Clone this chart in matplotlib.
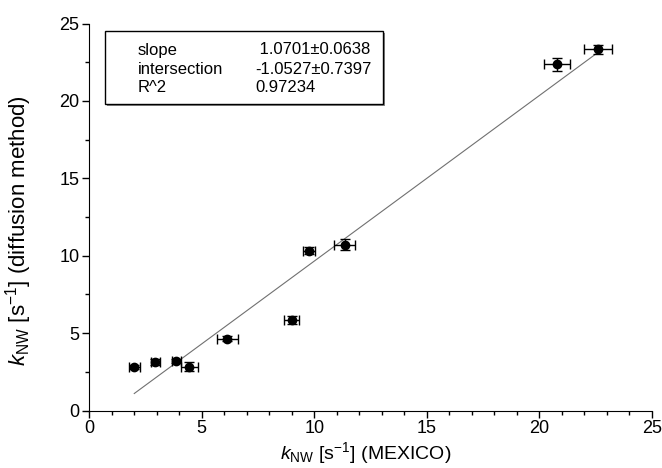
import matplotlib
matplotlib.use("Agg")
import matplotlib.pyplot as plt
from matplotlib.ticker import MultipleLocator
import numpy as np

plt.rcParams['font.family'] = ['Liberation Sans', 'DejaVu Sans']
plt.rcParams['mathtext.fontset'] = 'custom'
plt.rcParams['mathtext.rm'] = 'Liberation Sans'
plt.rcParams['mathtext.it'] = 'Liberation Sans:italic'

# data
x_mexico = [2.01, 2.95, 3.88, 4.46, 6.15, 9.00, 9.78, 11.35, 20.79, 22.60]
y_diffusion = [2.79, 3.15, 3.20, 2.82, 4.64, 5.85, 10.33, 10.71, 22.36, 23.33]
x_err = [0.24, 0.20, 0.20, 0.36, 0.47, 0.33, 0.27, 0.47, 0.59, 0.63]
y_err = [0.12, 0.18, 0.12, 0.30, 0.15, 0.25, 0.20, 0.34, 0.43, 0.29]
slope = 1.0701
intercept = -1.0527
fit_labels = ["slope", "intersection", "R^2"]
fit_values = [" 1.0701\u00b10.0638", "-1.0527\u00b10.7397", "0.97234"]

W, H = 662, 468
fig = plt.figure(figsize=(6.62, 4.68), dpi=100)
ax = fig.add_axes([89 / W, 1 - 410.5 / H, (652 - 89) / W, (410.5 - 23.5) / H])

xf = np.array([min(x_mexico), max(x_mexico)])
ax.plot(xf, slope * xf + intercept, color='#707070', lw=0.8, zorder=1)

ax.errorbar(x_mexico, y_diffusion, xerr=x_err, yerr=y_err, fmt='o', color='black',
            ms=6, ecolor='black', elinewidth=1.0, capsize=3.5, capthick=1.0, zorder=3)

ax.set_xlim(0, 25)
ax.set_ylim(0, 25)
ax.spines['top'].set_visible(False)
ax.spines['right'].set_visible(False)
ax.xaxis.set_major_locator(MultipleLocator(5))
ax.xaxis.set_minor_locator(MultipleLocator(1))
ax.yaxis.set_major_locator(MultipleLocator(5))
ax.yaxis.set_minor_locator(MultipleLocator(2.5))
ax.tick_params(which='major', direction='out', length=5, width=1, labelsize=13, pad=2)
ax.tick_params(which='minor', direction='out', length=3, width=1)

ax.set_xlabel(r"$\mathit{k}_{\mathrm{NW}}$ [s$^{\mathrm{-1}}$] (MEXICO)", fontsize=14)
ax.set_ylabel(r"$\mathit{k}_{\mathrm{NW}}$ [s$^{\mathrm{-1}}$] (diffusion method)", fontsize=16)
ax.xaxis.set_label_coords(0.492, -0.077)
ax.yaxis.set_label_coords(-0.098, 0.464)

# fit results box
bx0, bx1, by0, by1 = 105, 383, 31, 104
shadow = plt.Rectangle(((bx0 + 2) / W, 1 - (by1 + 2) / H), (bx1 - bx0) / W, (by1 - by0) / H,
                       transform=fig.transFigure, facecolor='#888888', edgecolor='none', zorder=1)
box = plt.Rectangle((bx0 / W, 1 - by1 / H), (bx1 - bx0) / W, (by1 - by0) / H,
                    transform=fig.transFigure, facecolor='white', edgecolor='black', lw=1.0, zorder=2)
fig.patches.append(shadow)
fig.patches.append(box)
for i, (lab, val) in enumerate(zip(fit_labels, fit_values)):
    yy = 1 - (50 + 19 * i) / H
    fig.text(138 / W, yy, lab, fontsize=12, va='center', ha='left', zorder=3)
    fig.text(255 / W, yy, val, fontsize=12, va='center', ha='left', zorder=3)

fig.savefig("out.png", dpi=100)
